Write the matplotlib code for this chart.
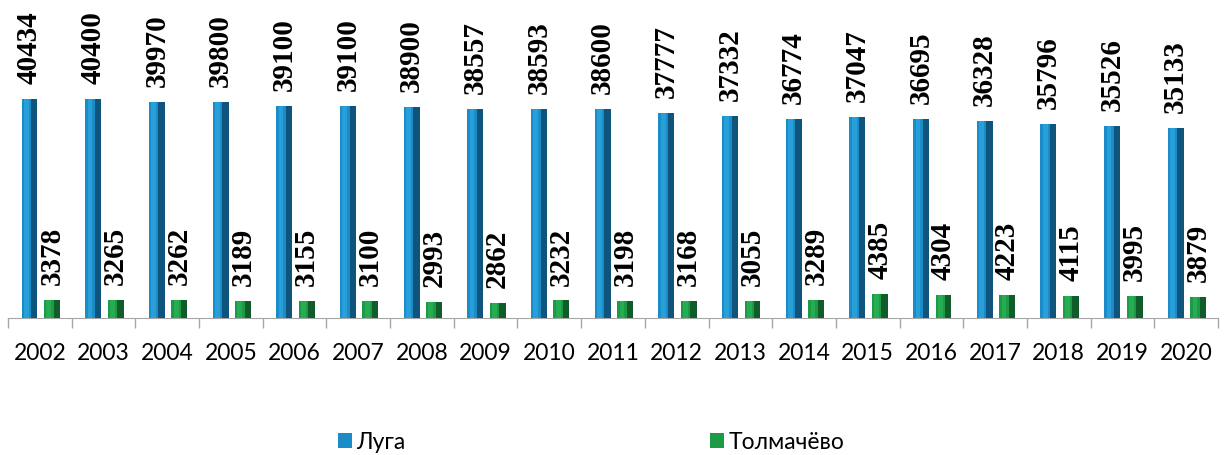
import matplotlib
matplotlib.use("Agg")
import matplotlib.pyplot as plt
import numpy as np

years = [str(y) for y in range(2002, 2021)]
luga = [40434, 40400, 39970, 39800, 39100, 39100, 38900, 38557, 38593, 38600,
        37777, 37332, 36774, 37047, 36695, 36328, 35796, 35526, 35133]
tolm = [3378, 3265, 3262, 3189, 3155, 3100, 2993, 2862, 3232, 3198,
        3168, 3055, 3289, 4385, 4304, 4223, 4115, 3995, 3879]

W, H = 1225, 456
fig = plt.figure(figsize=(W / 100, H / 100), dpi=100)
ax = fig.add_axes([8 / W, (H - 319) / H, 1210 / W, 243.7 / H])

x = np.arange(len(years))
bw = 0.25
off_l = -0.1625
off_t = 0.19

blue, blue_dark, blue_light = "#1A8CC8", "#07304A", "#3DB8EE"
green, green_dark, green_light = "#1C9A46", "#083519", "#34C464"

def bevel_bars(xc, vals, main, dark, light, label):
    bars = ax.bar(xc, vals, width=bw, color=main, label=label, zorder=2)
    ax.bar(xc + bw * 0.3, vals, width=bw * 0.4, color=dark, alpha=0.6, zorder=3)
    ax.bar(xc - bw * 0.2, vals, width=bw * 0.3, color=light, alpha=0.45, zorder=3)
    return bars

b1 = bevel_bars(x + off_l, luga, blue, blue_dark, blue_light, "Луга")
b2 = bevel_bars(x + off_t, tolm, green, green_dark, green_light, "Толмачёво")

for xs, vals in ((x + off_l, luga), (x + off_t, tolm)):
    for xi, v in zip(xs, vals):
        ax.annotate(str(v), (xi, v), xytext=(0, 11.5), textcoords="offset points",
                    rotation=90, ha="center", va="bottom",
                    fontfamily="Liberation Serif", fontweight="bold", fontsize=21,
                    annotation_clip=False)

ax.set_xlim(-0.5, len(years) - 0.5)
ax.set_ylim(0, 45000)
ax.set_yticks([])
for s in ("left", "right", "top"):
    ax.spines[s].set_visible(False)
ax.spines["bottom"].set_color("#A6A6A6")
ax.set_xticks(x)
ax.set_xticklabels(years, fontfamily="Lato", fontsize=16.5)
ax.tick_params(axis="x", which="major", length=0, pad=17)
ax.set_xticks(np.arange(-0.5, len(years)), minor=True)
ax.tick_params(axis="x", which="minor", length=7, color="#A6A6A6", width=1)

fig.legend(handles=[b1, b2], labels=["Луга", "Толмачёво"], loc="center",
           bbox_to_anchor=(0.4826, (H - 443) / H), ncol=2, frameon=False,
           prop={"family": "Lato", "size": 16.5}, columnspacing=13.3,
           handlelength=0.6, handleheight=0.6, handletextpad=0.2)

fig.savefig("out.png", dpi=100)
